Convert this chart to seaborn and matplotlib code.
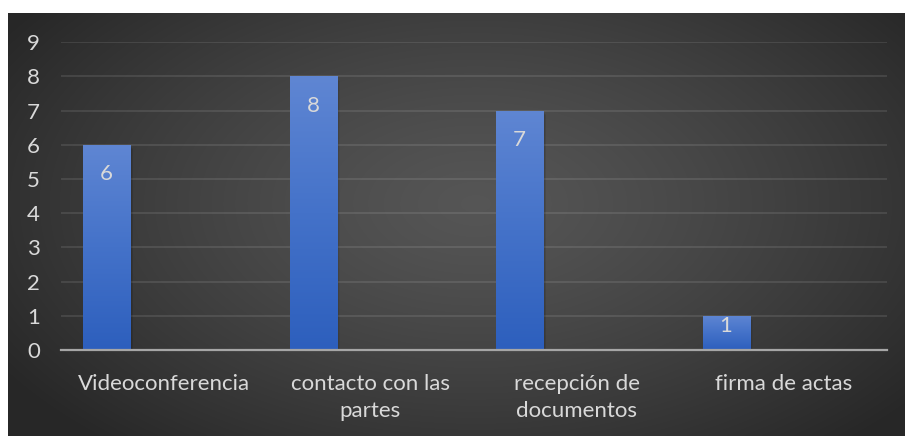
import numpy as np
import pandas as pd
import matplotlib
matplotlib.use("Agg")
import matplotlib.pyplot as plt
from matplotlib.colors import LinearSegmentedColormap
from matplotlib.patches import Rectangle
import seaborn as sns

# Data
categories = ["Videoconferencia", "contacto con las\npartes", "recepción de\ndocumentos", "firma de actas"]
valores = [6, 8, 7, 1]
series = ["Serie 1", "Serie 2", "Serie 3"]
y_ticks = list(range(0, 10))

sns.set_theme(style="white")
plt.rcParams["font.family"] = ["Lato", "DejaVu Sans"]

TEXT = "#d9d9d9"
FS = 16
W, H = 905, 436
fig = plt.figure(figsize=(W / 100, H / 100), dpi=100, facecolor="white")

# Dark panel with a soft radial glow
bg = fig.add_axes([8 / W, 0, 1 - 8 / W, 1 - 13 / H])
bg.set_axis_off()
ny, nx = 200, 420
yy, xx = np.mgrid[0:ny, 0:nx]
cx, cy = 0.52 * nx, 0.45 * ny
r = np.sqrt(((xx - cx) / (0.62 * nx)) ** 2 + ((yy - cy) / (0.75 * ny)) ** 2)
r = np.clip(r, 0, 1)
shade = 0.335 - (0.335 - 0.155) * r ** 1.3
bg.imshow(np.dstack([shade, shade, shade]), aspect="auto", extent=[0, 1, 0, 1], interpolation="bicubic")
bg.set_xlim(0, 1)
bg.set_ylim(0, 1)

ax = fig.add_axes([60.7 / W, 1 - 350 / H, (886.7 - 60.7) / W, (350 - 42.3) / H])
ax.patch.set_alpha(0)

df = pd.DataFrame({"categoria": categories, "valor": valores, "serie": series[0]})
sns.barplot(data=df, x="categoria", y="valor", hue="serie", hue_order=series,
            order=categories, palette=["#3f6fc9", "#3f6fc9", "#3f6fc9"],
            width=0.834, gap=0.18, dodge=True, legend=False, ax=ax,
            linewidth=0, errorbar=None, zorder=3)

ax.set_ylim(0, 9)
ax.set_xlim(-0.5, len(categories) - 0.5)
ax.set_yticks(y_ticks)
ax.grid(axis="y", color="white", alpha=0.11, linewidth=1.3, zorder=0)
ax.grid(axis="x", visible=False)
for s in ["top", "right", "left"]:
    ax.spines[s].set_visible(False)
ax.spines["bottom"].set_color("#a6a6a6")
ax.spines["bottom"].set_linewidth(1.6)
ax.spines["bottom"].set_zorder(5)
ax.set_xlabel("")
ax.set_ylabel("")
ax.tick_params(axis="y", length=0, pad=15, labelsize=FS, labelcolor=TEXT)
ax.tick_params(axis="x", length=0, pad=17, labelsize=FS, labelcolor=TEXT)
for lab in ax.get_xticklabels():
    lab.set_linespacing(1.45)

# Vertical blue gradient on the bars, with a soft shadow
cmap = LinearSegmentedColormap.from_list("barra", ["#2d5fbd", "#4472c9", "#5f86d3"])
grad = np.linspace(0, 1, 256).reshape(-1, 1)
bars = [p for p in ax.patches if p.get_height() > 0]
for p in bars:
    x0, w, h = p.get_x(), p.get_width(), p.get_height()
    for k, a in enumerate([0.10, 0.08, 0.06, 0.04]):
        dx = 0.004 * (k + 1)
        ax.add_patch(Rectangle((x0 + dx, 0), w, h - 0.03 * (k + 1), facecolor="black",
                               alpha=a, linewidth=0, zorder=2))
    im = ax.imshow(grad, cmap=cmap, aspect="auto", origin="lower",
                   extent=[x0, x0 + w, 0, h], zorder=3.5, interpolation="bilinear")
    im.set_clip_path(p)

    # value label just inside the top of the bar
    ax.text(x0 + w / 2, max(h - 0.86, h * 0.7), f"{h:g}", ha="center", va="center",
            color=TEXT, fontsize=FS, zorder=6)

ax.set_aspect("auto")
ax.set_ylim(0, 9)
ax.set_xlim(-0.5, len(categories) - 0.5)

fig.savefig("out.png", dpi=100, facecolor="white")
